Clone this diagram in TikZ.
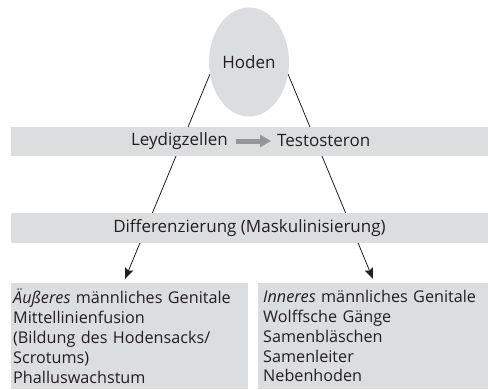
\documentclass[tikz,border=0pt]{standalone}
\usepackage{fontspec}
\setmainfont{Open Sans}
\usetikzlibrary{shapes.geometric,arrows.meta}
\definecolor{boxgray}{RGB}{220,221,223}
\definecolor{arrgray}{RGB}{150,150,152}
\definecolor{txt}{RGB}{35,31,32}
\begin{document}
\begin{tikzpicture}[x=1pt,y=-1pt,
  every node/.style={text=txt,font=\fontsize{17}{20}\selectfont},
  band/.style={fill=boxgray,draw=none,minimum height=29pt,inner sep=0pt},
  genbox/.style={fill=boxgray,draw=none,anchor=north west,align=left,minimum height=106pt,inner ysep=0pt,font=\fontsize{16.2}{19.8}\selectfont},
  conn/.style={draw=txt,line width=0.8pt,-{Stealth[length=11pt,width=9pt,inset=2pt]}}
]
\useasboundingbox (0,0) rectangle (488,389);
% connectors (behind bands)
\coordinate (hl) at (210,74);
\coordinate (hr) at (288,74);
\coordinate (tl) at (125,279);
\coordinate (tr) at (373,279);
\draw[conn] (hl) -- (tl);
\draw[conn] (hr) -- (tr);
% ellipse
\node[ellipse,fill=boxgray,minimum width=80pt,minimum height=109pt,inner sep=0pt] (hoden) at (249,62) {Hoden};
% band 1
\node[band,minimum width=477pt] (band1) at (249.5,141.5) {};
\node[anchor=east,inner sep=0pt] (leyd) at (228,141) {Leydigzellen};
\node[anchor=west,inner sep=0pt] (testo) at (277,141) {Testosteron};
\draw[arrgray,line width=5pt,-{Triangle[length=11pt,width=12pt]}] ([xshift=8pt]leyd.east) -- ([xshift=-6pt]testo.west);
% band 2
\node[band,minimum width=477pt,minimum height=30pt] (band2) at (249.5,228) {Differenzierung (Maskulinisierung)};
% bottom boxes
\node[genbox,text width=233pt,inner xsep=2pt,minimum width=235pt] (lbox) at (11,283)
  {\textit{Äußeres} männliches Genitale\\Mittellinienfusion\\(Bildung des Hodensacks/\\Scrotums)\\Phalluswachstum};
\node[genbox,text width=225pt,inner xsep=5pt,minimum width=230pt] (rbox) at (258,283)
  {\textit{Inneres} männliches Genitale\\Wolffsche Gänge\\Samenbläschen\\Samenleiter\\Nebenhoden};
\end{tikzpicture}
\end{document}
